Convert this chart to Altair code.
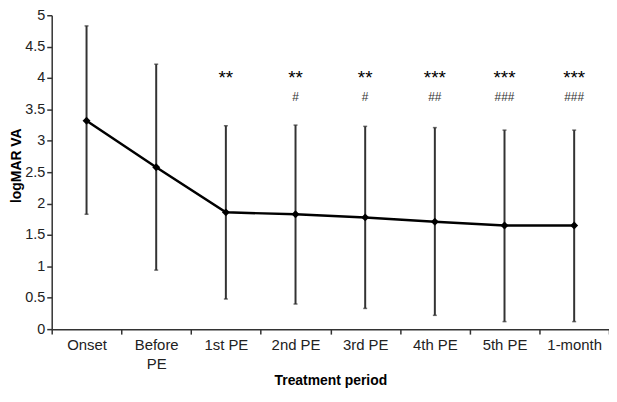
import altair as alt
import pandas as pd

categories = ["Onset", "Before PE", "1st PE", "2nd PE", "3rd PE", "4th PE", "5th PE", "1-month"]
mean_va = [3.32, 2.58, 1.86, 1.83, 1.78, 1.71, 1.65, 1.65]
upper_va = [4.83, 4.22, 3.24, 3.25, 3.23, 3.21, 3.17, 3.17]
lower_va = [1.83, 0.94, 0.48, 0.40, 0.33, 0.22, 0.12, 0.12]
stars = ["", "", "**", "**", "**", "***", "***", "***"]
hashes = ["", "", "", "#", "#", "##", "###", "###"]
y_ticks = [0, 0.5, 1, 1.5, 2, 2.5, 3, 3.5, 4, 4.5, 5]

STAR_Y = 3.90
HASH_Y = 3.63

df = pd.DataFrame({
    "period": categories,
    "mean": mean_va,
    "upper": upper_va,
    "lower": lower_va,
    "stars": stars,
    "hashes": hashes,
})

FONT = "Liberation Sans"
AXIS_COLOR = "#333333"

x_axis = alt.Axis(
    title="Treatment period",
    labelAngle=0,
    tickBand="extent",
    labelExpr="datum.label == 'Before PE' ? ['Before', 'PE'] : datum.label",
    labelLineHeight=20,
    labelFontSize=15,
    labelPadding=3,
    titleFontSize=14,
    titleFontWeight="bold",
    titlePadding=2,
    tickSize=5,
    grid=False,
)
x_scale = alt.Scale(paddingInner=0, paddingOuter=0)


def xenc():
    return alt.X("period:N", sort=categories, scale=x_scale, axis=x_axis)


y_scale = alt.Scale(domain=[0, 5], nice=False, zero=True)
y_axis = alt.Axis(
    title="logMAR VA",
    values=y_ticks,
    tickCount=11,
    labelOverlap=False,
    format="~g",
    labelFontSize=14.5,
    titleFontSize=14,
    titleFontWeight="bold",
    titleX=-28,
    titleY=151,
    tickSize=5,
    grid=False,
)


def yenc(field):
    return alt.Y(field, type="quantitative", scale=y_scale, axis=y_axis)


base = alt.Chart(df)

bars = base.mark_rule(color="#333333", strokeWidth=2).encode(
    x=xenc(),
    y=yenc("lower"),
    y2="upper:Q",
)

caps_up = base.mark_tick(color="#333333", orient="horizontal", size=4, thickness=1.5).encode(
    x=xenc(), y=yenc("upper")
)
caps_lo = base.mark_tick(color="#333333", orient="horizontal", size=4, thickness=1.5).encode(
    x=xenc(), y=yenc("lower")
)

line = base.mark_line(
    color="#000000", strokeWidth=2.5,
    point=alt.OverlayMarkDef(shape="diamond", size=64, filled=True, color="#000000"),
).encode(
    x=xenc(),
    y=yenc("mean"),
)

star_text = base.mark_text(font=FONT, fontSize=19, baseline="alphabetic", color="#000000").encode(
    x=xenc(),
    y=alt.datum(STAR_Y, scale=y_scale, axis=y_axis),
    text="stars:N",
)
hash_text = base.mark_text(font=FONT, fontSize=12, baseline="alphabetic", color="#333333").encode(
    x=xenc(),
    y=alt.datum(HASH_Y, scale=y_scale, axis=y_axis),
    text="hashes:N",
)

chart = alt.layer(bars, caps_up, caps_lo, line, star_text, hash_text).properties(
    width=561,
    height=316,
    autosize=alt.AutoSizeParams(type="none"),
    padding={"left": 44, "top": 6, "right": 0, "bottom": 62},
).configure_view(
    stroke=None
).configure_axis(
    labelFont=FONT,
    titleFont=FONT,
    labelColor="#222222",
    titleColor="#000000",
    domainColor=AXIS_COLOR,
    tickColor=AXIS_COLOR,
    domainWidth=1.5,
    tickWidth=1.5,
)

chart.save("out.html", embed_options={"renderer": "svg", "actions": False})
